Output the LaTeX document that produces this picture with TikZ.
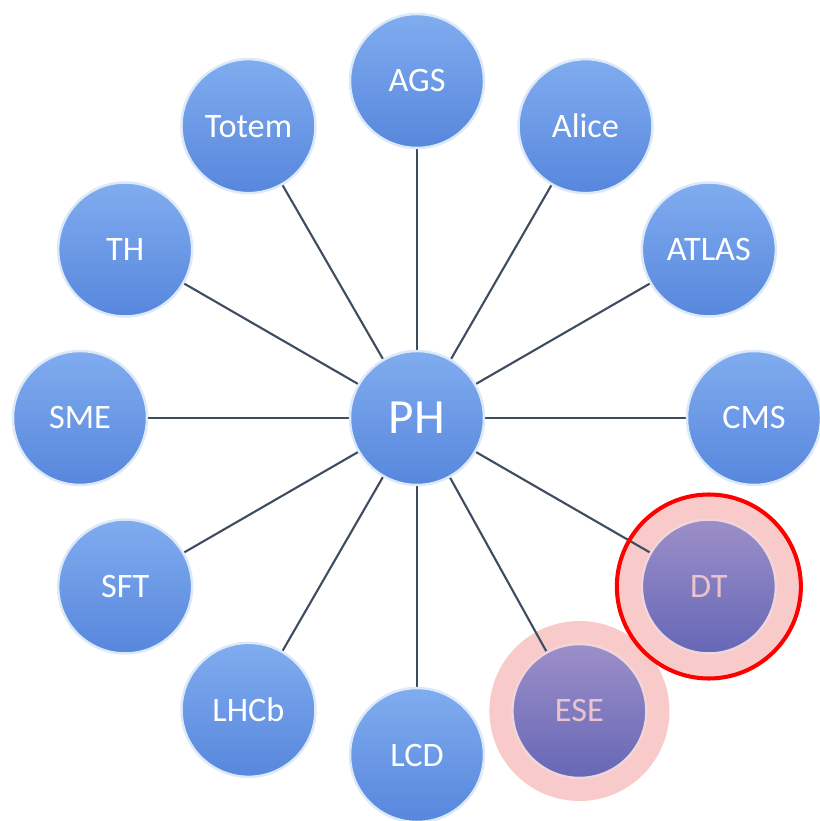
\documentclass[tikz,border=0pt]{standalone}
\usepackage{fontspec}
\setmainfont{Carlito}
\usetikzlibrary{backgrounds}
\definecolor{unittop}{HTML}{80ACEF}
\definecolor{unitbot}{HTML}{5787DD}
\definecolor{hiltop}{HTML}{9C8FC8}
\definecolor{hilbot}{HTML}{6667B6}
\definecolor{hiltext}{HTML}{EAC4CA}
\definecolor{rim}{HTML}{DCE9F8}
\definecolor{spoke}{HTML}{3D4C5E}
\definecolor{halo}{HTML}{F9CACA}

\begin{document}
\begin{tikzpicture}[x=0.02cm,y=0.02cm,
  unit/.style={circle,minimum size=2.68cm,inner sep=0pt,draw=rim,line width=1.4pt,
    top color=unittop,bottom color=unitbot,text=white,font=\fontsize{19.5}{22}\selectfont},
  hil/.style={unit,top color=hiltop,bottom color=hilbot,draw=hiltext!70!white,text=hiltext},
  hub/.style={unit,font=\fontsize{28}{32}\selectfont},
  spk/.style={draw=spoke,line width=1.2pt}]
\useasboundingbox (-417,-403) rectangle (402,418);
\node[hub] (PH) at (0,0) {PH};
\foreach \n/\a in {AGS/90,Alice/60,ATLAS/30,CMS/0,LCD/-90,LHCb/-120,SFT/-150,SME/180,TH/150,Totem/120}
  \node[unit] (\n) at (\a:337) {\n};
\node[hil] (DT) at (-30:337) {DT};
\node[hil] (ESE) at (-61:335) {ESE};
% halos and spokes behind the units
\begin{scope}[on background layer]
\fill[halo] (DT.center) circle (91);
\fill[halo] (ESE.center) circle (90);
\foreach \n in {AGS,Alice,ATLAS,CMS,DT,ESE,LCD,LHCb,SFT,SME,TH,Totem}
  \draw[spk] (PH) -- (\n);
\end{scope}
\draw[red,line width=2.3pt] (DT.center) circle (92);
\end{tikzpicture}
\end{document}
